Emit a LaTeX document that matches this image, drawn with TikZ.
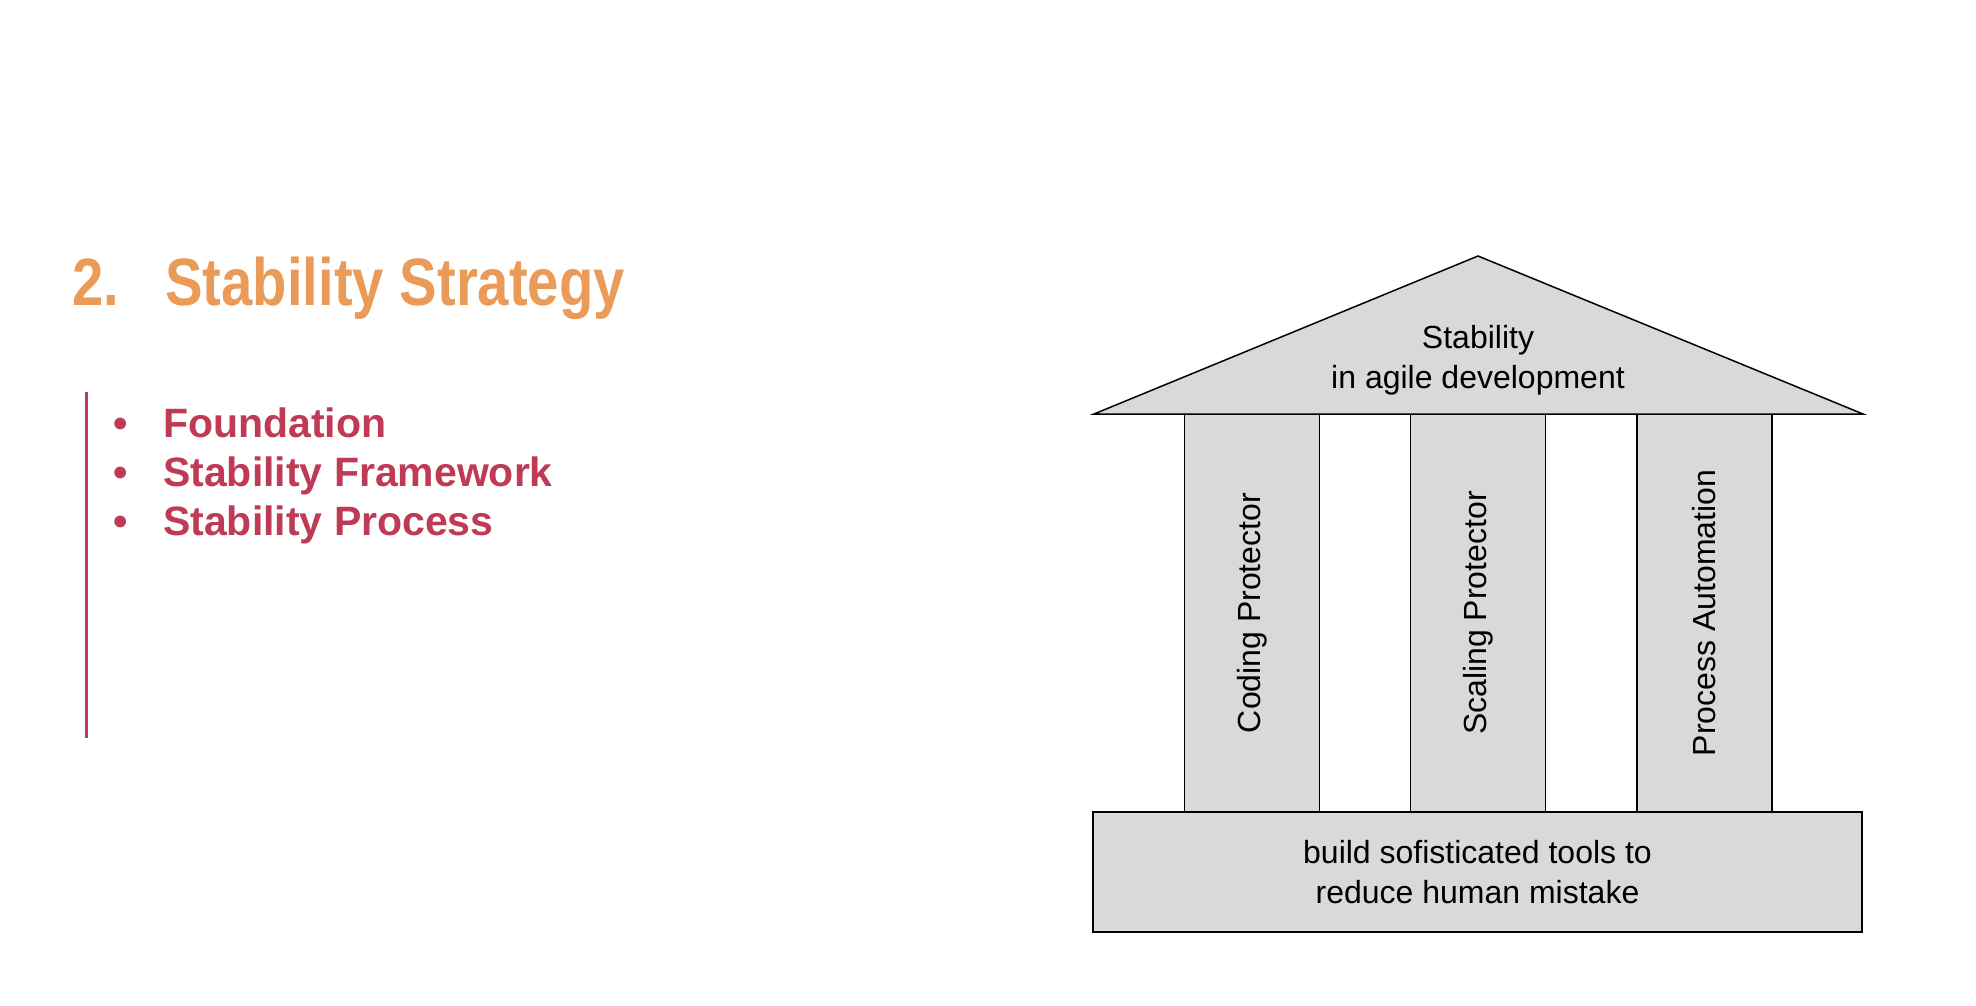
\documentclass[tikz,border=0pt]{standalone}
\usepackage{fontspec}
\setmainfont{Liberation Sans}
\newfontfamily\titlefont[FakeStretch=0.84]{Liberation Sans}
\definecolor{titleorange}{RGB}{234,155,88}
\definecolor{listred}{RGB}{190,58,85}
\definecolor{stone}{RGB}{217,217,217}

\begin{document}
\begin{tikzpicture}[x=1pt,y=-1pt,
  house/.style={draw=black, fill=stone, line width=1.5pt},
  bodytext/.style={font=\fontsize{32}{40}\selectfont, align=center, inner sep=0pt},
  pillar/.style={house, bodytext, rotate=90, minimum width=398pt, minimum height=135pt},
  titletext/.style={text=titleorange, font=\titlefont\bfseries\fontsize{67}{80}\selectfont, inner sep=0pt, anchor=base west},
  itemtext/.style={text=listred, font=\bfseries\fontsize{41}{48}\selectfont, inner sep=0pt, anchor=base west},
  dottext/.style={text=listred, font=\bfseries\fontsize{41}{48}\selectfont, inner sep=0pt, anchor=base}
]
\fill[white] (0,0) rectangle (1976,1006);
\useasboundingbox (0,0) rectangle (1976,1006);

% heading
\node[titletext] (num) at (72,305) {2.};
\node[titletext] (title) at (165,305) {Stability Strategy};

% agenda rule and items
\draw[listred, line width=3pt] (86,392) -- (86,738);
\node[dottext] (d1) at (121,437) {•};
\node[itemtext] (i1) at (163,437) {Foundation};
\node[dottext] (d2) at (121,486) {•};
\node[itemtext] (i2) at (163,486) {Stability Framework};
\node[dottext] (d3) at (121,535) {•};
\node[itemtext] (i3) at (163,535) {Stability Process};

% temple: base, pillars, roof
\node[house, bodytext, minimum width=769pt, minimum height=120pt] (base) at (1477.5,872)
  {build sofisticated tools to\\reduce human mistake};
\node[pillar] (p1) at (1252,613) {Coding Protector};
\node[pillar] (p2) at (1478,613) {Scaling Protector};
\node[pillar] (p3) at (1704.5,613) {Process Automation};
\draw[house] (1094,414) coordinate (rl) -- (1478,256) coordinate (apex) -- (1863,414) coordinate (rr) -- cycle;
\node[bodytext] (roof) at (1478,360) {Stability\\in agile development};
\end{tikzpicture}
\end{document}
